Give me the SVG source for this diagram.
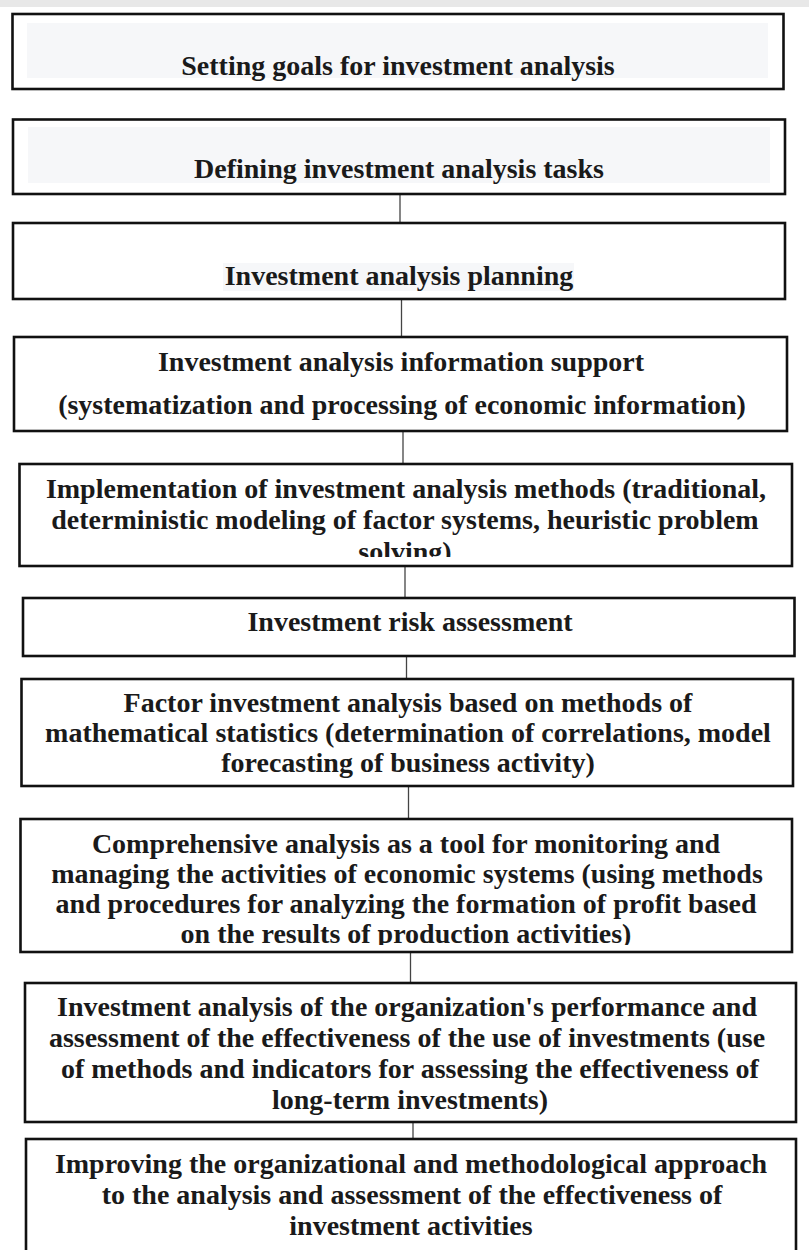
<svg xmlns="http://www.w3.org/2000/svg" width="809" height="1250" viewBox="0 0 809 1250">
<style>
.box{fill:#fff;stroke:#111;stroke-width:2.6}
.hl{fill:#f6f7f9}
.t{font-family:"Liberation Serif","Times New Roman",serif;font-weight:bold;font-size:28px;fill:#1a1a1a;text-anchor:middle}
.c{stroke:#444;stroke-width:1.3;fill:none}
</style>
<defs>
<clipPath id="clip5"><rect x="0" y="460" width="809" height="97"/></clipPath>
<clipPath id="clip8"><rect x="0" y="815" width="809" height="130"/></clipPath>
</defs>
<rect x="0" y="0" width="809" height="1250" fill="#fff"/>
<rect x="0" y="0" width="809" height="7" fill="#e8e8e8"/>

<g id="connectors">
<line class="c" x1="400" y1="194" x2="400" y2="223"/>
<line class="c" x1="401.5" y1="299" x2="401.5" y2="337"/>
<line class="c" x1="403" y1="431" x2="403" y2="464"/>
<line class="c" x1="405" y1="566" x2="405" y2="598"/>
<line class="c" x1="406.5" y1="656" x2="406.5" y2="679"/>
<line class="c" x1="408.5" y1="786" x2="408.5" y2="819"/>
<line class="c" x1="410.5" y1="952" x2="410.5" y2="983"/>
<line class="c" x1="413" y1="1122" x2="413" y2="1139"/>
</g>

<g id="n1">
<rect class="box" x="12.5" y="14" width="771" height="75"/>
<rect class="hl" x="27" y="23" width="741" height="55"/>
<text class="t" x="398" y="75">Setting goals for investment analysis</text>
</g>

<g id="n2">
<rect class="box" x="13" y="119.5" width="772" height="74.5"/>
<rect class="hl" x="28" y="127" width="742" height="56"/>
<text class="t" x="399" y="178">Defining investment analysis tasks</text>
</g>

<g id="n3">
<rect class="box" x="13" y="223" width="772" height="76"/>
<rect class="hl" x="223" y="263" width="351" height="28"/>
<text class="t" x="399" y="285">Investment analysis planning</text>
</g>

<g id="n4">
<rect class="box" x="14" y="337" width="773" height="94"/>
<text class="t" x="401" y="371">Investment analysis information support</text>
<text class="t" x="402" y="414">(systematization and processing of economic information)</text>
</g>

<g id="n5">
<rect class="box" x="19.5" y="464" width="772.5" height="102"/>
<g clip-path="url(#clip5)">
<text class="t" x="406" y="498">Implementation of investment analysis methods (traditional,</text>
<text class="t" x="405" y="529">deterministic modeling of factor systems, heuristic problem</text>
<text class="t" x="405" y="561">solving)</text>
</g>
</g>

<g id="n6">
<rect class="box" x="23" y="598" width="771.5" height="58"/>
<text class="t" x="410" y="631">Investment risk assessment</text>
</g>

<g id="n7">
<rect class="box" x="21.5" y="679" width="771.5" height="107"/>
<text class="t" x="408" y="712">Factor investment analysis based on methods of</text>
<text class="t" x="408" y="742">mathematical statistics (determination of correlations, model</text>
<text class="t" x="408" y="772">forecasting of business activity)</text>
</g>

<g id="n8">
<rect class="box" x="20.5" y="819" width="771.5" height="133"/>
<g clip-path="url(#clip8)">
<text class="t" x="406" y="853">Comprehensive analysis as a tool for monitoring and</text>
<text class="t" x="407" y="883">managing the activities of economic systems (using methods</text>
<text class="t" x="406" y="913">and procedures for analyzing the formation of profit based</text>
<text class="t" x="406" y="943">on the results of production activities)</text>
</g>
</g>

<g id="n9">
<rect class="box" x="25" y="983" width="771" height="139"/>
<text class="t" x="407" y="1016">Investment analysis of the organization's performance and</text>
<text class="t" x="407" y="1047">assessment of the effectiveness of the use of investments (use</text>
<text class="t" x="410" y="1078">of methods and indicators for assessing the effectiveness of</text>
<text class="t" x="410" y="1109">long-term investments)</text>
</g>

<g id="n10">
<rect class="box" x="26" y="1139" width="770" height="130"/>
<text class="t" x="411" y="1173">Improving the organizational and methodological approach</text>
<text class="t" x="412" y="1204">to the analysis and assessment of the effectiveness of</text>
<text class="t" x="411" y="1235">investment activities</text>
</g>
</svg>
